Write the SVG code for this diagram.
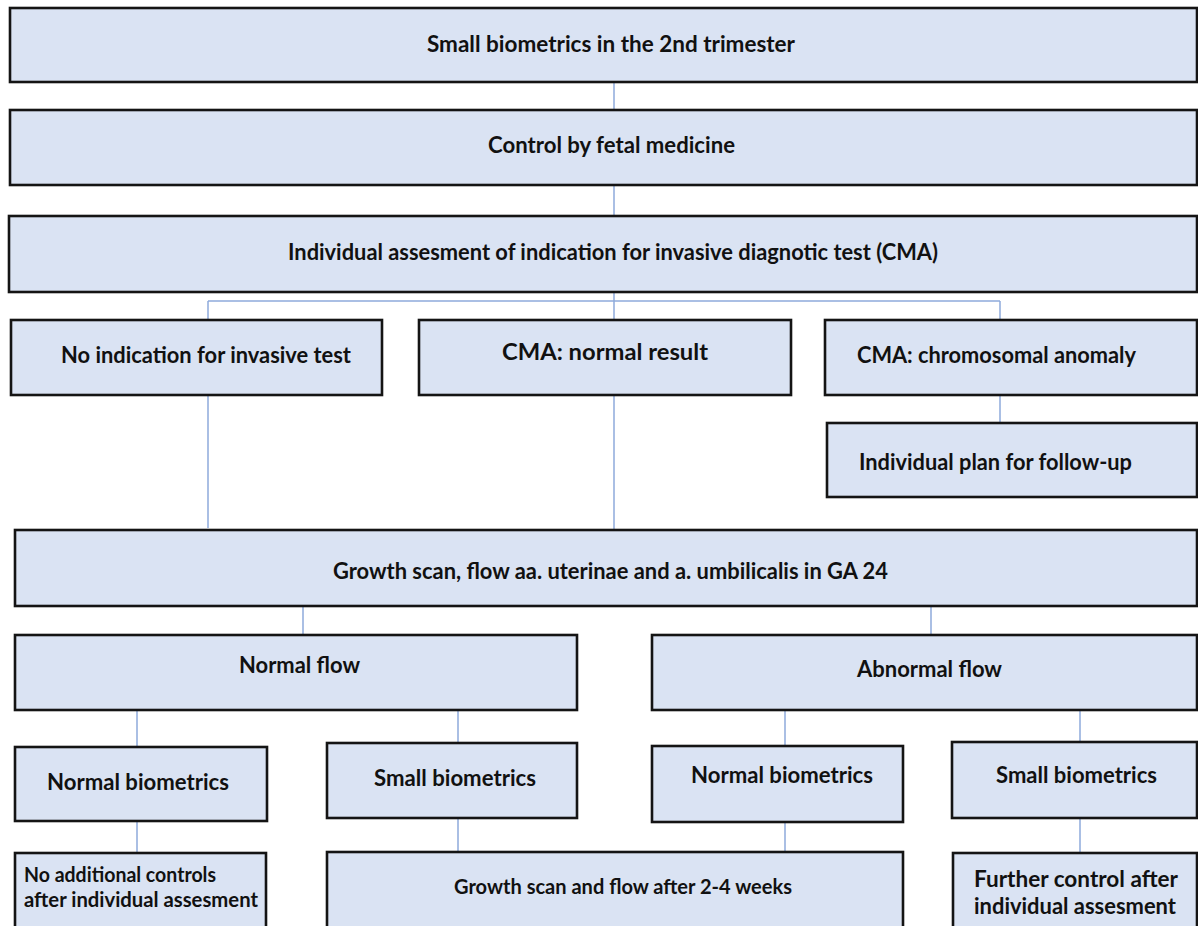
<svg xmlns="http://www.w3.org/2000/svg" width="1198" height="926" viewBox="0 0 1198 926">
<style>
.box{fill:#dae3f3;stroke:#141414;stroke-width:2.6}
.t{font-family:Lato,"Open Sans","Liberation Sans",sans-serif;font-weight:bold;font-size:22px;fill:#111;text-anchor:middle}
.l{text-anchor:start}
.s{font-size:20.4px}
.c{fill:none;stroke:#8eaadb;stroke-width:1.5}
</style>
<rect width="1198" height="926" fill="#fff"/>
<g id="connectors">
<path class="c" d="M614 82V110M614 185V216M614 292V301M208 301H1000M208 301V320M614 301V320M1000 301V320M1000 395V423M208 395V528M614 395V530M303 606V635M931 606V635M137 710V747M458 710V743M785 710V746M1080 710V742M137 821V853M458 818V852M785 822V852M1080 818V853"/>
</g>
<g id="n1"><rect class="box" x="10" y="8" width="1187" height="74"/><text class="t" x="611" y="52" textLength="368" lengthAdjust="spacingAndGlyphs">Small biometrics in the 2nd trimester</text></g>
<g id="n2"><rect class="box" x="10" y="110" width="1187" height="75"/><text class="t" x="611.5" y="153" textLength="247" lengthAdjust="spacingAndGlyphs">Control by fetal medicine</text></g>
<g id="n3"><rect class="box" x="9" y="216" width="1188" height="76"/><text class="t" x="613" y="260" textLength="650" lengthAdjust="spacingAndGlyphs">Individual assesment of indication for invasive diagnotic test (CMA)</text></g>
<g id="n4"><rect class="box" x="11" y="320" width="371" height="75"/><text class="t" x="206" y="363" textLength="290" lengthAdjust="spacingAndGlyphs">No indication for invasive test</text></g>
<g id="n5"><rect class="box" x="419" y="320" width="372" height="75"/><text class="t" x="605" y="360" textLength="206" lengthAdjust="spacingAndGlyphs">CMA: normal result</text></g>
<g id="n6"><rect class="box" x="825" y="320" width="372" height="75"/><text class="t" x="996.5" y="363" textLength="279" lengthAdjust="spacingAndGlyphs">CMA: chromosomal anomaly</text></g>
<g id="n7"><rect class="box" x="827" y="423" width="370" height="74"/><text class="t" x="995.5" y="470" textLength="273" lengthAdjust="spacingAndGlyphs">Individual plan for follow-up</text></g>
<g id="n8"><rect class="box" x="15" y="530" width="1182" height="76"/><text class="t" x="610.5" y="579" textLength="555" lengthAdjust="spacingAndGlyphs">Growth scan, flow aa. uterinae and a. umbilicalis in GA 24</text></g>
<g id="n9"><rect class="box" x="15" y="635" width="562" height="75"/><text class="t" x="299.5" y="673" textLength="121" lengthAdjust="spacingAndGlyphs">Normal flow</text></g>
<g id="n10"><rect class="box" x="652" y="635" width="545" height="75"/><text class="t" x="929.5" y="677" textLength="145" lengthAdjust="spacingAndGlyphs">Abnormal flow</text></g>
<g id="n11"><rect class="box" x="15" y="747" width="252" height="74"/><text class="t" x="138" y="790" textLength="182" lengthAdjust="spacingAndGlyphs">Normal biometrics</text></g>
<g id="n12"><rect class="box" x="327" y="743" width="250" height="75"/><text class="t" x="455" y="786" textLength="162" lengthAdjust="spacingAndGlyphs">Small biometrics</text></g>
<g id="n13"><rect class="box" x="652" y="746" width="251" height="76"/><text class="t" x="782" y="783" textLength="182" lengthAdjust="spacingAndGlyphs">Normal biometrics</text></g>
<g id="n14"><rect class="box" x="952" y="742" width="245" height="76"/><text class="t" x="1076.5" y="783" textLength="161" lengthAdjust="spacingAndGlyphs">Small biometrics</text></g>
<g id="n15"><rect class="box" x="15" y="853" width="251" height="80"/><text class="t l s" x="24" y="882" textLength="192" lengthAdjust="spacingAndGlyphs">No additional controls</text><text class="t l s" x="24" y="907" textLength="234" lengthAdjust="spacingAndGlyphs">after individual assesment</text></g>
<g id="n16"><rect class="box" x="327" y="852" width="576" height="80"/><text class="t s" x="623" y="894" textLength="338" lengthAdjust="spacingAndGlyphs">Growth scan and flow after 2-4 weeks</text></g>
<g id="n17"><rect class="box" x="953" y="853" width="244" height="80"/><text class="t l" x="974" y="887" textLength="204" lengthAdjust="spacingAndGlyphs">Further control after</text><text class="t l" x="974" y="914" textLength="202" lengthAdjust="spacingAndGlyphs">individual assesment</text></g>
</svg>
